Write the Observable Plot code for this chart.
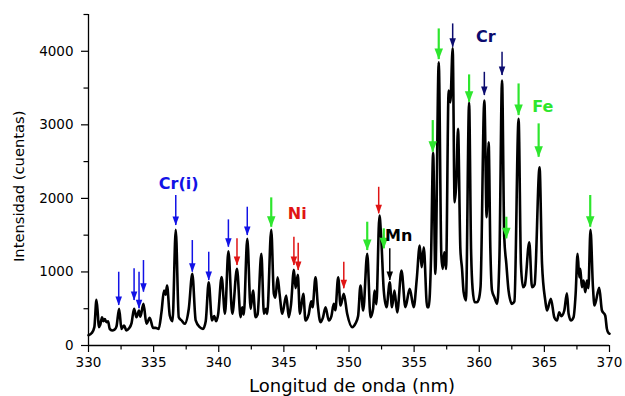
<!DOCTYPE html>
<html><head><meta charset="utf-8">
<script src="https://cdn.jsdelivr.net/npm/d3@7"></script>
<script src="https://cdn.jsdelivr.net/npm/@observablehq/plot@0.6"></script>
<style>body{margin:0;background:#fff} svg{display:block}</style>
</head><body><div id="chart"></div>
<script>
// Spectrum (wavelength nm, counts)
const spectrumNm = [330.00,330.25,330.45,330.61,330.72,330.79,330.90,331.04,331.15,331.25,331.38,331.50,331.63,331.81,332.00,332.15,332.35,332.53,332.73,332.91,333.10,333.30,333.50,333.68,333.88,333.98,334.22,334.45,334.70,334.96,335.15,335.39,335.60,335.80,335.92,336.03,336.24,336.45,336.70,336.93,337.15,337.38,337.70,337.97,338.23,338.54,338.79,339.00,339.23,339.48,339.65,339.80,339.95,340.22,340.48,340.74,341.04,341.40,341.68,341.80,341.92,342.19,342.45,342.63,342.83,342.98,343.27,343.47,343.62,343.72,344.03,344.23,344.35,344.52,344.67,344.88,345.18,345.38,345.55,345.77,345.90,346.07,346.23,346.49,346.66,346.90,347.10,347.20,347.43,347.60,347.81,348.00,348.20,348.45,348.65,348.83,348.95,349.17,349.35,349.60,349.86,350.25,350.50,350.70,350.88,351.09,351.40,351.65,351.85,351.96,352.10,352.34,352.47,352.67,352.88,353.13,353.30,353.49,353.70,354.03,354.33,354.66,354.97,355.20,355.43,355.58,355.74,356.00,356.12,356.30,356.46,356.63,356.89,357.09,357.19,357.32,357.45,357.65,357.78,357.96,358.11,358.24,358.37,358.55,358.68,358.80,358.98,359.22,359.37,359.49,359.65,359.83,359.95,360.10,360.39,360.57,360.72,360.85,360.98,361.16,361.37,361.55,361.75,361.92,362.08,362.25,362.51,362.70,363.02,363.20,363.36,363.50,363.84,364.05,364.25,364.63,364.82,365.07,365.20,365.50,365.76,365.97,366.14,366.30,366.53,366.73,366.86,367.04,367.24,367.40,367.55,367.68,367.76,367.88,368.01,368.14,368.27,368.38,368.54,368.73,368.85,369.21,369.42,369.67,369.80,369.93,370.00];
const spectrumCounts = [140,170,250,620,420,250,280,385,330,360,317,330,226,204,215,260,498,226,272,204,230,300,498,385,476,390,566,295,376,240,240,226,450,747,690,815,408,330,1572,385,340,295,500,974,340,249,226,330,860,340,400,330,420,930,431,1282,431,1042,385,520,420,1450,498,747,385,420,1246,431,500,430,1572,703,650,928,703,431,680,385,560,1029,780,961,431,703,340,420,600,520,928,560,317,380,521,340,400,566,480,928,544,703,431,249,300,400,815,476,1246,385,500,747,560,1767,1472,747,521,860,520,747,450,1019,521,770,521,900,1359,1064,1336,521,521,1200,2620,974,3850,1223,1042,1268,1042,3465,3306,4040,1947,2219,2945,1314,1042,725,612,3298,1314,770,589,589,620,800,3330,1744,2763,1336,747,657,566,1200,3601,1472,1110,747,566,600,3081,1110,792,820,1404,792,830,2423,1110,612,476,635,385,340,453,400,476,711,431,340,385,700,1246,928,1042,792,883,725,883,780,1572,792,544,784,476,408,226,167,160];

// Arrows: element group, wavelength, tail and tip (counts)
const arrowGroup = ["CrI","CrI","CrI","CrI","CrI","CrI","CrI","CrI","CrI","Ni","Ni","Ni","Ni","Ni","Fe","Fe","Fe","Fe","Fe","Fe","Fe","Fe","Fe","Fe","Cr","Cr","Cr","Mn"];
const arrowNm =    [332.32,333.50,333.88,334.22,336.70,337.97,339.23,340.74,342.19,341.40,345.77,346.10,349.60,352.28,344.03,351.40,352.67,356.43,356.89,359.22,362.08,363.02,364.56,368.52,357.96,360.39,361.75,353.13];
const arrowTail =  [996,1042,996,1155,2039,1427,1268,1708,1880,1450,1472,1390,1132,2151,2007,1676,1586,3058,4304,3679,1744,3556,3013,2039,4372,3714,3986,1314];
const arrowTip =   [544,612,498,725,1631,996,883,1336,1495,1087,1087,1019,770,1790,1608,1291,1314,2627,3887,3306,1450,3126,2559,1608,4054,3398,3669,883];

// Element labels
const labelText = ["Cr(i)","Ni","Mn","Cr","Fe"];
const labelGroup = ["CrI","Ni","Mn","Cr","Fe"];
const labelNm = [336.92,346.03,353.82,360.50,364.88];
const labelCounts = [2200,1794,1495,4200,3248];

// Axis ticks
const xTicks = [330,335,340,345,350,355,360,365,370];
const xMinor = [332.5,337.5,342.5,347.5,352.5,357.5,362.5,367.5];
const yTicks = [0,1000,2000,3000,4000];
const yMinor = [500,1500,2500,3500,4500];

const colors = {CrI:"#1212e6", Ni:"#e01414", Fe:"#2ee62e", Cr:"#0b0b6e", Mn:"#000000"};

const spectrum = spectrumNm.map((x,i)=>({x, y: spectrumCounts[i]}));
const arrows = arrowNm.map((x,i)=>({x, tail: arrowTail[i], tip: arrowTip[i], g: arrowGroup[i]}));
const labels = labelText.map((t,i)=>({t, g: labelGroup[i], x: labelNm[i], y: labelCounts[i]}));

function head(w,h){return {draw(ctx){ctx.moveTo(0,0);ctx.lineTo(-w/2,-h);ctx.lineTo(w/2,-h);ctx.closePath();}};}
const smallHead = head(6.5, 9);
const bigHead = head(8.5, 11);
const groups = ["CrI","Ni","Fe","Cr","Mn"];

const chart = Plot.plot({
  width: 625, height: 396,
  marginLeft: 88, marginRight: 16, marginTop: 14, marginBottom: 51,
  style: {fontFamily: "'DejaVu Sans', sans-serif", background: "#fff", color: "#000"},
  x: {domain: [330, 370]},
  y: {domain: [0, 4500]},
  marks: [
    Plot.line(spectrum, {x: "x", y: "y", stroke: "#000", strokeWidth: 2.6, curve: "monotone-x"}),
    ...groups.flatMap(g => {
      const a = arrows.filter(d => d.g === g);
      return [
        Plot.ruleX(a, {x: "x", y1: "tail", y2: "tip", stroke: colors[g], strokeWidth: g === "Fe" ? 2.2 : 1.5}),
        Plot.dot(a, {x: "x", y: "tip", symbol: g === "Fe" ? bigHead : smallHead, fill: colors[g]})
      ];
    }),
    ...groups.map(g => Plot.text(labels.filter(d => d.g === g), {x: "x", y: "y", text: "t", fill: colors[g], fontWeight: "bold", fontSize: 16})),
    Plot.ruleX([330], {stroke: "#000", strokeWidth: 1.3}),
    Plot.ruleY([0], {stroke: "#000", strokeWidth: 1.3}),
    Plot.axisX({ticks: xTicks, tickSize: 7, tickPadding: 5, tickFormat: "d", fontSize: 13.5, label: null, strokeWidth: 1.2}),
    Plot.axisX({ticks: xMinor, tickSize: 4.5, tickFormat: () => "", label: null, strokeWidth: 1.2}),
    Plot.axisY({ticks: yTicks, tickSize: 7, tickPadding: 8, tickFormat: "d", fontSize: 13.5, label: null, strokeWidth: 1.2}),
    Plot.axisY({ticks: yMinor, tickSize: 4.5, tickFormat: () => "", label: null, strokeWidth: 1.2}),
    Plot.text(["Longitud de onda (nm)"], {text: d => d, frameAnchor: "bottom", dx: 3, dy: 46, fontSize: 18}),
    Plot.text(["Intensidad (cuentas)"], {text: d => d, frameAnchor: "left", dx: -69, dy: 82, rotate: -90, fontSize: 14.7})
  ]
});
document.getElementById("chart").appendChild(chart);
</script>
</body></html>
